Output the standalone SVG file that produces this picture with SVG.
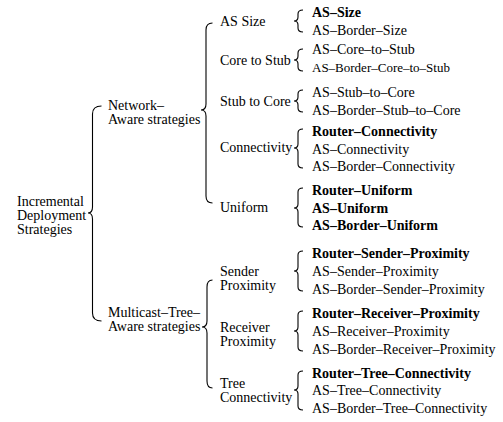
<svg xmlns="http://www.w3.org/2000/svg" width="503" height="422" viewBox="0 0 503 422">
<style>
text{font-family:"Liberation Serif","Tinos","DejaVu Serif","Noto Serif",Times,"Times New Roman",serif;font-size:14px;fill:#000}
.b{font-weight:bold}
.s{font-size:13px}
.br{fill:none;stroke:#000;stroke-width:1.1}
</style>
<rect width="503" height="422" fill="#fff"/>
<g id="connectors">
<path class="br" d="M101.5 106 Q92.5 106 92.5 114 L92.5 207 Q92.5 213 88 213 Q92.5 213 92.5 219 L92.5 313 Q92.5 321 101.5 321"/>
<path class="br" d="M212.5 23 Q206 23 206 30 L206 104 Q206 110 201 110 Q206 110 206 116 L206 196 Q206 203 212.5 203"/>
<path class="br" d="M212.5 280 Q207 280 207 287 L207 321 Q207 327 202 327 Q207 327 207 333 L207 381 Q207 388 212.5 388"/>
<path class="br" d="M303 10 Q298 10 298 14 L298 17 Q298 21 294 21 Q298 21 298 25 L298 28 Q298 32 303 32"/>
<path class="br" d="M303 49 Q298 49 298 53 L298 56 Q298 60 294 60 Q298 60 298 64 L298 67 Q298 71 303 71"/>
<path class="br" d="M303 90 Q298 90 298 94 L298 97 Q298 101 294 101 Q298 101 298 105 L298 108 Q298 112 303 112"/>
<path class="br" d="M303 129 Q298 129 298 133 L298 144 Q298 148 294 148 Q298 148 298 152 L298 164 Q298 168 303 168"/>
<path class="br" d="M303 188 Q298 188 298 192 L298 204 Q298 208 294 208 Q298 208 298 212 L298 223 Q298 227 303 227"/>
<path class="br" d="M303 251 Q298 251 298 255 L298 267 Q298 271 294 271 Q298 271 298 275 L298 287 Q298 291 303 291"/>
<path class="br" d="M303 311 Q298 311 298 315 L298 327 Q298 331 294 331 Q298 331 298 335 L298 347 Q298 351 303 351"/>
<path class="br" d="M303 371 Q298 371 298 375 L298 386 Q298 390 294 390 Q298 390 298 394 L298 406 Q298 410 303 410"/>
</g>
<g id="root"><text x="17" y="206">Incremental</text><text x="17" y="220">Deployment</text><text x="17" y="234">Strategies</text></g>
<g id="network-aware"><text x="108" y="110">Network–</text><text x="108" y="124">Aware strategies</text></g>
<g id="multicast-tree-aware"><text x="108" y="317">Multicast–Tree–</text><text x="108" y="331">Aware strategies</text></g>
<g id="as-size"><text x="220" y="26">AS Size</text></g>
<g id="core-to-stub"><text x="220" y="65">Core to Stub</text></g>
<g id="stub-to-core"><text x="220" y="106">Stub to Core</text></g>
<g id="connectivity"><text x="220" y="152">Connectivity</text></g>
<g id="uniform"><text x="220" y="212">Uniform</text></g>
<g id="sender-proximity"><text x="220" y="276">Sender</text><text x="220" y="290">Proximity</text></g>
<g id="receiver-proximity"><text x="220" y="332">Receiver</text><text x="220" y="346">Proximity</text></g>
<g id="tree-connectivity"><text x="220" y="388">Tree</text><text x="220" y="402">Connectivity</text></g>
<g id="leaves-as-size"><text class="b" x="312" y="16.5">AS–Size</text><text x="312" y="34.5">AS–Border–Size</text></g>
<g id="leaves-core-to-stub"><text x="312" y="53.5">AS–Core–to–Stub</text><text class="s" x="312" y="71.5">AS–Border–Core–to–Stub</text></g>
<g id="leaves-stub-to-core"><text x="312" y="96.5">AS–Stub–to–Core</text><text x="312" y="114.5">AS–Border–Stub–to–Core</text></g>
<g id="leaves-connectivity"><text class="b" x="312" y="135.5">Router–Connectivity</text><text x="312" y="153.5">AS–Connectivity</text><text x="312" y="170.5">AS–Border–Connectivity</text></g>
<g id="leaves-uniform"><text class="b" x="312" y="194.5">Router–Uniform</text><text class="b" x="312" y="212.5">AS–Uniform</text><text class="b" x="312" y="229.5">AS–Border–Uniform</text></g>
<g id="leaves-sender"><text class="b" x="312" y="257.5">Router–Sender–Proximity</text><text x="312" y="275.5">AS–Sender–Proximity</text><text x="312" y="293.5">AS–Border–Sender–Proximity</text></g>
<g id="leaves-receiver"><text class="b" x="312" y="317.5">Router–Receiver–Proximity</text><text x="312" y="335.5">AS–Receiver–Proximity</text><text x="312" y="353.5">AS–Border–Receiver–Proximity</text></g>
<g id="leaves-tree"><text class="b" x="312" y="377.5">Router–Tree–Connectivity</text><text x="312" y="394.5">AS–Tree–Connectivity</text><text x="312" y="412.5">AS–Border–Tree–Connectivity</text></g>
</svg>
